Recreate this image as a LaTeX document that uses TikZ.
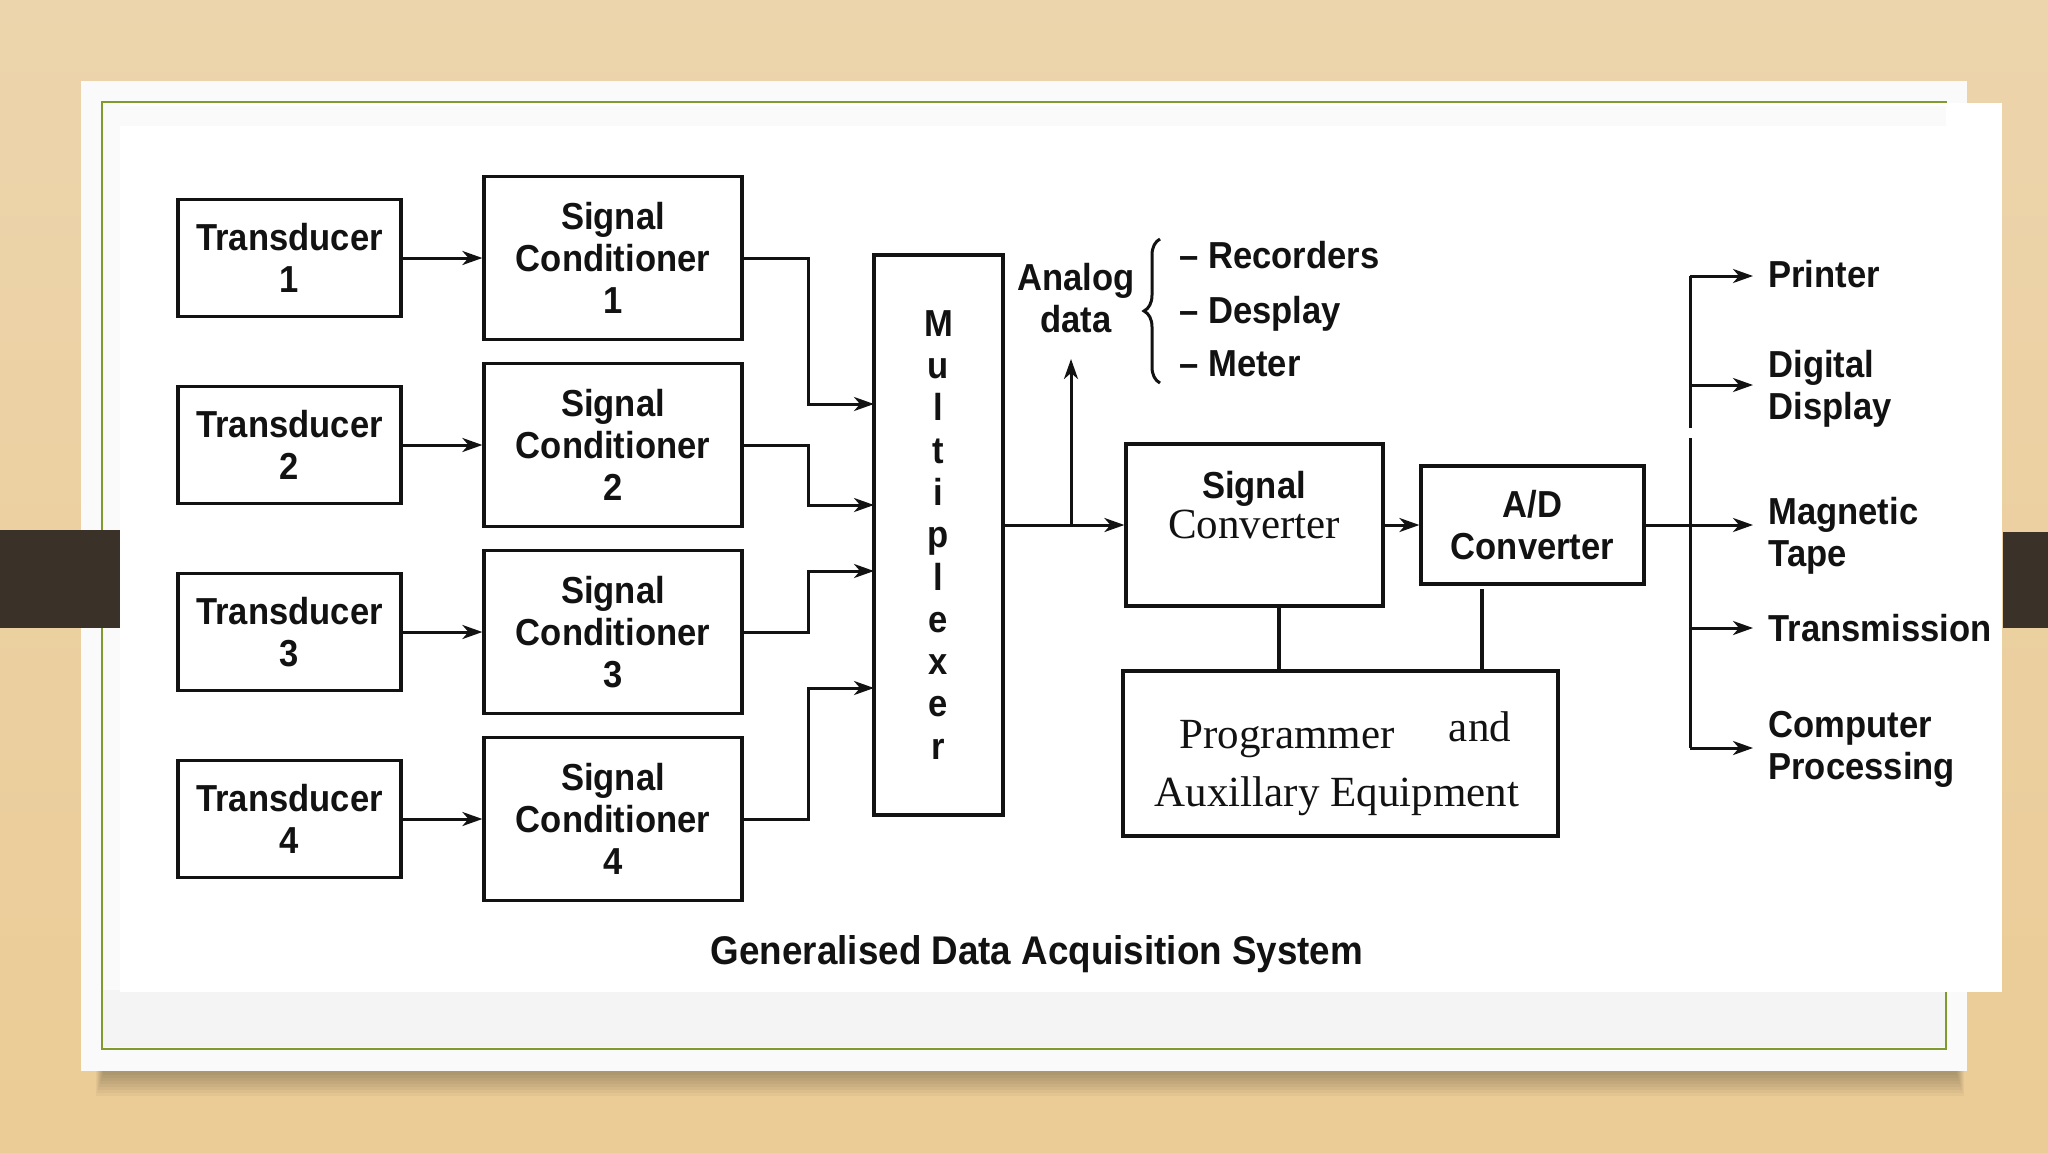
\documentclass[tikz,border=0pt]{standalone}
\usepackage{fontspec}
\setmainfont{Liberation Serif}
\newfontfamily\dsans[FakeStretch=0.92]{Liberation Sans}
\usetikzlibrary{arrows.meta,decorations.pathreplacing}
\definecolor{woodA}{RGB}{236,212,172}
\definecolor{woodB}{RGB}{228,189,124}
\definecolor{woodC}{RGB}{235,204,150}
\definecolor{barc}{RGB}{58,49,41}
\definecolor{greenb}{RGB}{128,155,45}
\definecolor{cardc}{RGB}{250,250,250}
\definecolor{ink}{RGB}{18,18,18}
\newcommand\dlab{\dsans\bfseries\fontsize{18.8}{21}\selectfont}
\newcommand\dlabmux{\dsans\bfseries\fontsize{18.8}{21.15}\selectfont}
\newcommand\dcap{\dsans\bfseries\fontsize{20}{24}\selectfont}
\newcommand\dserif{\rmfamily\fontsize{21.5}{25}\selectfont}
\tikzset{
  box/.style={draw=ink, line width=1.6pt, fill=white, inner sep=0pt, align=center, font=\dlab, text=ink},
  arr/.style={draw=ink, line width=1.5pt, -{Stealth[length=10pt,width=7pt,inset=3pt]}},
  conn/.style={draw=ink, line width=1.8pt},
  lbl/.style={inner sep=0pt, font=\dlab, text=ink},
  serl/.style={inner sep=0pt, font=\dserif, text=ink},
}
\begin{document}
\begin{tikzpicture}[x=0.5pt,y=-0.5pt]
\useasboundingbox (0,0) rectangle (2048,1152);
% background
\shade[top color=woodA, middle color=woodB, bottom color=woodC] (0,0) rectangle (2048,1152);
% card shadow
\foreach \k in {0,...,7}{
  \fill[black,opacity=0.035] (96+\k,1062) rectangle (1964-\k,1096-3*\k);
}
% card
\fill[cardc] (81,81) rectangle (1967,1071);
\fill[gray!9] (102,990) rectangle (1946,1047);
\draw[greenb, line width=1.3pt] (102,102) rectangle (1946,1049);
% pasted image
\fill[white] (120,103) rectangle (2002,992);
\fill[gray!4] (120,106) rectangle (1946,126);
% bars
\fill[barc] (0,530) rectangle (120,628);
\fill[barc] (2003,532) rectangle (2048,628);

% transducers and conditioners
\foreach \i/\y in {1/258,2/445,3/632,4/819}{
  \node[box, minimum width=111.5pt, minimum height=58.5pt] (t\i) at (289.5,\y) {Transducer\\\i};
  \node[box, minimum width=129pt, minimum height=81.5pt] (sc\i) at (613,\y) {Signal\\Conditioner\\\i};
  \draw[arr] (t\i.east) -- (sc\i.west);
}
% multiplexer
\node[box, minimum width=64.5pt, minimum height=280pt] (mux) at (938.5,535) {};
\node[lbl, anchor=north, align=center, font=\dlabmux] (muxtxt) at (938.5,310) {M\\u\\l\\t\\i\\p\\l\\e\\x\\e\\r};
\coordinate (in1) at (874,404);
\coordinate (in2) at (874,505);
\coordinate (in3) at (874,571);
\coordinate (in4) at (874,688);
\draw[arr] (sc1.east) -| (808,404) -- (in1);
\draw[arr] (sc2.east) -| (808,505) -- (in2);
\draw[arr] (sc3.east) -| (808,571) -- (in3);
\draw[arr] (sc4.east) -| (808,688) -- (in4);

% signal converter and A/D
\node[box, minimum width=128.5pt, minimum height=81pt] (scnv) at (1254.5,525) {};
\node[lbl, anchor=base] (scnv1) at (1254,498.5) {Signal};
\node[serl, anchor=base] (scnv2) at (1254,538) {Converter};
\node[box, minimum width=111.5pt, minimum height=59pt] (ad) at (1532.5,525) {A/D\\Converter};
\draw[arr] (mux.east |- scnv.west) -- (scnv.west);
\coordinate (br) at (1071,525);
\coordinate (antip) at (1071,359);
\draw[arr] (br) -- (antip);
\draw[arr] (scnv.east) -- (ad.west);

% analog data
\node[lbl, anchor=north, align=center] (analog) at (1076,263) {Analog\\data};
\draw[ink, line width=1.5pt, decorate, decoration={brace, amplitude=8pt}] (1160,383) -- (1160,239);
\node[lbl, anchor=base west] (rec) at (1179,268.5) {– Recorders};
\node[lbl, anchor=base west] (dsp) at (1179,323.5) {– Desplay};
\node[lbl, anchor=base west] (met) at (1179,376.5) {– Meter};

% programmer
\node[draw=ink, line width=2.4pt, fill=white, minimum width=217.5pt, minimum height=82.5pt] (prog) at (1340.5,753.5) {};
\node[serl, anchor=base] (prog1) at (1287,748) {Programmer};
\node[serl, anchor=base] (prog2) at (1480,741) {and};
\node[serl, anchor=base] (prog3) at (1337,806) {Auxillary Equipment};
\draw[conn] (scnv.south -| 1279,0) -- (prog.north -| 1279,0);
\coordinate (adlow) at (1482,589);
\draw[conn] (adlow) -- (prog.north -| 1482,0);

% output bus
\coordinate (bus) at (1690,525);
\draw[arr, -] (ad.east) -- (bus);
\draw[ink, line width=1.5pt] (1690,276) -- (1690,428);
\draw[ink, line width=1.5pt] (1690,438) -- (1690,748);
\foreach \n/\y in {pr/276,dd/385,mt/525,tr/628,cp/748}{
  \coordinate (o\n) at (1753,\y);
  \draw[arr] (1690,\y) -- (o\n);
}
\node[lbl, anchor=base west] (printer) at (1768,287.5) {Printer};
\node[lbl, anchor=north west, align=left] (digital) at (1768,350) {Digital\\Display};
\node[lbl, anchor=north west, align=left] (magnetic) at (1768,497) {Magnetic\\Tape};
\node[lbl, anchor=base west] (trans) at (1768,641.5) {Transmission};
\node[lbl, anchor=north west, align=left] (computer) at (1768,711) {Computer\\Processing};

% caption
\node[inner sep=0pt, font=\dcap, text=ink, anchor=base] (caption) at (1037,964.5) {Generalised Data Acquisition System};
\end{tikzpicture}
\end{document}
